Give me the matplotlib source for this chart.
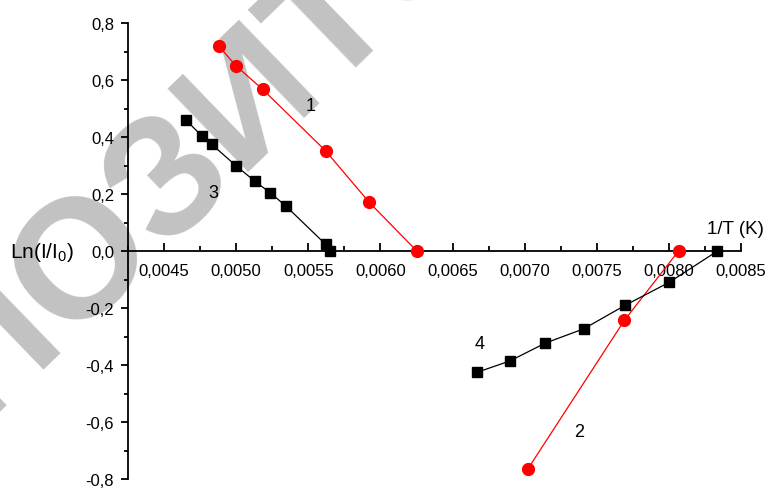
import matplotlib
matplotlib.use("Agg")
import matplotlib.pyplot as plt
from matplotlib.ticker import FuncFormatter, MultipleLocator

plt.rcParams['font.family'] = ['Liberation Sans', 'DejaVu Sans']
plt.rcParams['mathtext.fontset'] = 'custom'
plt.rcParams['mathtext.rm'] = 'Liberation Sans'
plt.rcParams['mathtext.it'] = 'Liberation Sans'

# curve 1 (red circles)
x1 = [0.004881, 0.005000, 0.005184, 0.005621, 0.005920, 0.006252]
y1 = [0.718, 0.649, 0.567, 0.351, 0.172, 0.0]
# curve 2 (red circles)
x2 = [0.007022, 0.007692, 0.008067]
y2 = [-0.765, -0.243, 0.0]
# curve 3 (black squares)
x3 = [0.004653, 0.004761, 0.004831, 0.004999, 0.005129, 0.005237, 0.005346, 0.005621, 0.005653]
y3 = [0.459, 0.404, 0.374, 0.299, 0.245, 0.204, 0.157, 0.023, 0.0]
# curve 4 (black squares)
x4 = [0.006668, 0.006897, 0.007144, 0.007410, 0.007695, 0.008002, 0.008337]
y4 = [-0.426, -0.386, -0.323, -0.273, -0.191, -0.110, 0.0]

fig = plt.figure(figsize=(7.71, 4.89), dpi=100)
ax = fig.add_axes([128 / 771, 9 / 489, 613 / 771, 456 / 489])
ax.set_zorder(1)
ax.patch.set_alpha(0)

# repository watermark behind everything
fig.text(252 / 771, 1 - 97 / 489, "РЕПОЗИТОРИЙ", rotation=44, fontsize=122,
         family=['Liberation Sans Narrow', 'Liberation Sans'],
         fontweight='bold', color='#c2c2c2', ha='center', va='center',
         rotation_mode='anchor', zorder=-1)

ax.plot(x1, y1, '-o', color='red', lw=0.9, ms=8.5, zorder=3)
ax.plot(x2, y2, '-o', color='red', lw=0.9, ms=8.5, zorder=3)
ax.plot(x3, y3, '-s', color='black', lw=0.9, ms=7.5, zorder=3)
ax.plot(x4, y4, '-s', color='black', lw=0.9, ms=7.5, zorder=3)

ax.set_xlim(0.00425, 0.0085)
ax.set_ylim(-0.8, 0.8)

ax.spines['top'].set_visible(False)
ax.spines['right'].set_visible(False)
ax.spines['bottom'].set_position(('data', 0))
for s in ('left', 'bottom'):
    ax.spines[s].set_linewidth(1.3)

ax.xaxis.set_major_locator(MultipleLocator(0.0005))
ax.xaxis.set_minor_locator(MultipleLocator(0.00025))
ax.yaxis.set_major_locator(MultipleLocator(0.2))
ax.yaxis.set_minor_locator(MultipleLocator(0.1))

ax.xaxis.set_major_formatter(FuncFormatter(lambda v, p: ("%.4f" % v).replace('.', ',') if v > 0.0044 else ''))
ax.yaxis.set_major_formatter(FuncFormatter(lambda v, p: ("%.1f" % v).replace('.', ',').replace('-0,0', '0,0')))

ax.tick_params(axis='x', which='major', direction='in', length=6, width=1.3, pad=9, labelsize=12)
ax.tick_params(axis='x', which='minor', direction='in', length=3.5, width=1.3)
ax.tick_params(axis='y', which='major', direction='out', length=5, width=1.3, pad=5, labelsize=12)
ax.tick_params(axis='y', which='minor', direction='out', length=3, width=1.3)

ax.text(0.005513, 0.512, "1", fontsize=13, ha='center', va='center')
ax.text(0.00484, 0.207, "3", fontsize=13, ha='center', va='center')
ax.text(0.006691, -0.326, "4", fontsize=13, ha='center', va='center')
ax.text(0.007378, -0.632, "2", fontsize=13, ha='center', va='center')

fig.text(707 / 771, 1 - 230 / 489, "1/T (K)", fontsize=13.5, ha='left', va='center')
fig.text(10 / 771, 1 - 252 / 489, r"Ln(I/I$_{0}$)", fontsize=15, ha='left', va='center')

fig.savefig("out.png", dpi=100)
